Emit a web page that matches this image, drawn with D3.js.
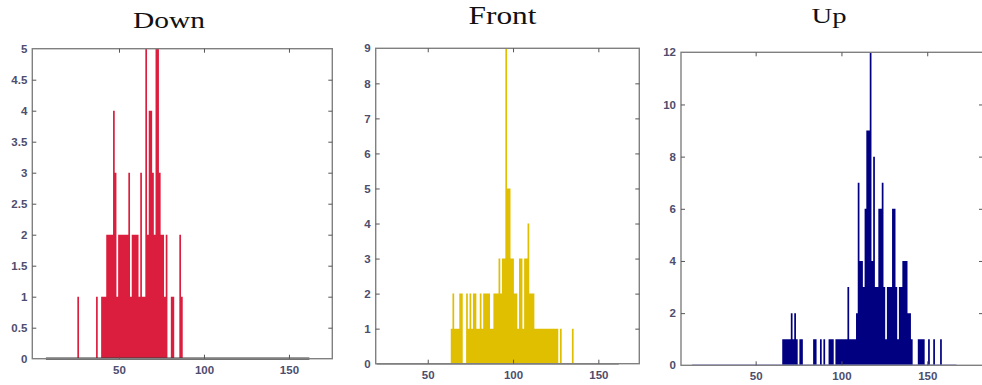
<!DOCTYPE html>
<html>
<head>
<meta charset="utf-8">
<script src="https://cdn.jsdelivr.net/npm/d3@7"></script>
<style>
  html, body { margin: 0; padding: 0; background: #fff; }
  svg { display: block; }
  .tick text { font-family: 'Liberation Sans', Arial, sans-serif; font-weight: bold; font-size: 11.5px; fill: #4d4d6e; }
  .tick line { stroke: #555; }
</style>
</head>
<body>
<svg id="chart" width="982" height="385"></svg>
<script>
// bin centres and counts
const downX = [26, 37, 40, 41, 42, 43, 44, 45, 46, 47, 48, 49, 50, 51, 52, 53, 54, 55, 56, 57, 58, 59, 60, 61, 62, 63, 64, 65, 66, 67, 68, 69, 70, 71, 72, 73, 74, 75, 76, 77, 78, 81, 82, 86, 87]
const downN = [1, 1, 1, 1, 1, 2, 2, 2, 2, 4, 3, 1, 2, 2, 2, 2, 2, 2, 3, 1, 2, 2, 2, 2, 1, 3, 1, 1, 5, 2, 4, 4, 3, 2, 5, 5, 3, 2, 2, 1, 2, 1, 1, 2, 1]

const frontX = [64, 65, 66, 67, 68, 69, 70, 73, 74, 75, 76, 77, 78, 79, 80, 81, 82, 83, 84, 85, 86, 87, 88, 89, 90, 91, 92, 93, 94, 95, 96, 97, 98, 99, 100, 101, 102, 103, 104, 105, 106, 107, 108, 109, 110, 111, 112, 113, 114, 115, 116, 117, 118, 119, 120, 121, 122, 123, 124, 125, 126, 128, 135]
const frontN = [1, 2, 1, 1, 1, 2, 2, 2, 1, 2, 1, 2, 2, 1, 1, 2, 1, 2, 2, 2, 2, 1, 1, 2, 2, 2, 3, 2, 3, 3, 9, 5, 5, 3, 3, 2, 2, 1, 3, 3, 1, 3, 3, 4, 2, 2, 2, 1, 1, 1, 1, 1, 1, 1, 1, 1, 1, 1, 1, 1, 1, 1, 1]

const upX = [66, 67, 68, 69, 70, 71, 72, 73, 74, 76, 77, 84, 85, 88, 90, 93, 94, 95, 97, 98, 99, 100, 101, 102, 103, 104, 105, 106, 107, 108, 109, 110, 111, 112, 113, 114, 115, 116, 117, 118, 119, 120, 121, 122, 123, 124, 125, 126, 127, 128, 129, 130, 131, 132, 133, 134, 135, 136, 137, 138, 139, 140, 141, 145, 146, 147, 148, 151, 154, 158]
const upN = [1, 1, 1, 1, 1, 2, 1, 2, 1, 1, 1, 1, 1, 1, 1, 1, 1, 1, 1, 1, 1, 1, 1, 1, 1, 3, 1, 1, 1, 1, 2, 7, 4, 4, 3, 6, 9, 9, 12, 4, 8, 3, 3, 6, 6, 7, 3, 1, 3, 3, 3, 6, 6, 3, 1, 3, 3, 4, 4, 4, 2, 2, 1, 1, 1, 1, 1, 1, 1, 1]

const titles = ['Down', 'Front', 'Up']
const xTicks = [50, 100, 150]
const downYTicks = [0, 0.5, 1, 1.5, 2, 2.5, 3, 3.5, 4, 4.5, 5]
const frontYTicks = [0, 1, 2, 3, 4, 5, 6, 7, 8, 9]
const upYTicks = [0, 2, 4, 6, 8, 10, 12]
const binRanges = [[7, 162], [20, 162], [13, 167]]

const panels = [
  {
    title: titles[0], xs: downX, ns: downN, yTicks: downYTicks, yMax: 5,
    xDomain: [-1, 175.5], left: 32.3, right: 332.3, top: 48.7, bottom: 358.7,
    color: '#dc1e3e', base: '#3a3a3a', baseW: 2.2, bins: binRanges[0],
    tx: 169, ty: 27.5, tSize: 23, tLen: 72,
  },
  {
    title: titles[1], xs: frontX, ns: frontN, yTicks: frontYTicks, yMax: 9,
    xDomain: [19.5, 174], left: 375.7, right: 639.3, top: 48.3, bottom: 363.7,
    color: '#e0be00', base: '#555', baseW: 1.6, bins: binRanges[1],
    tx: 502.5, ty: 23.5, tSize: 25, tLen: 68,
  },
  {
    title: titles[2], xs: upX, ns: upN, yTicks: upYTicks, yMax: 12,
    xDomain: [6.5, 182.5], left: 681, right: 983, top: 52.3, bottom: 365.3,
    color: '#000080', base: '#7070d0', baseW: 1.6, bins: binRanges[2],
    tx: 829, ty: 23, tSize: 22, tLen: 35,
  },
]

const svg = d3.select('#chart')

panels.forEach((p) => drawPanel(p))

function drawPanel(p) {
  const x = d3.scaleLinear().domain(p.xDomain).range([p.left, p.right])
  const y = d3.scaleLinear().domain([0, p.yMax]).range([p.bottom, p.top])
  const g = svg.append('g')

  const data = p.xs.map((v, i) => ({ v: v, n: p.ns[i] }))

  // all bins in one path so neighbouring bars don't leave seams
  const barPath = data
    .map((d) => `M${x(d.v - 0.5)},${y(0)}V${y(d.n)}H${x(d.v + 0.5)}V${y(0)}Z`)
    .join('')
  g.append('path')
    .attr('class', 'bars')
    .attr('d', barPath)
    .attr('fill', p.color)

  // baseline under the bins
  g.append('line')
    .attr('x1', x(p.bins[0]))
    .attr('x2', x(p.bins[1]))
    .attr('y1', y(0))
    .attr('y2', y(0))
    .attr('stroke', p.base)
    .attr('stroke-width', p.baseW)

  // box
  g.append('rect')
    .attr('x', p.left)
    .attr('y', p.top)
    .attr('width', p.right - p.left)
    .attr('height', p.bottom - p.top)
    .attr('fill', 'none')
    .attr('stroke', '#808080')
    .attr('stroke-width', 1.4)

  const xb = g.append('g')
    .attr('transform', `translate(0,${p.bottom})`)
    .call(d3.axisBottom(x).tickValues(xTicks).tickSize(-4).tickPadding(7))
  const xt = g.append('g')
    .attr('transform', `translate(0,${p.top})`)
    .call(d3.axisTop(x).tickValues(xTicks).tickSize(-4).tickFormat(''))
  const yl = g.append('g')
    .attr('transform', `translate(${p.left},0)`)
    .call(d3.axisLeft(y).tickValues(p.yTicks).tickSize(-4).tickPadding(5).tickFormat(d3.format('')))
  const yr = g.append('g')
    .attr('transform', `translate(${p.right},0)`)
    .call(d3.axisRight(y).tickValues(p.yTicks).tickSize(-4).tickFormat(''))
  ;[xb, xt, yl, yr].forEach((a) => a.select('.domain').remove())
  // no tick marks at the very ends
  yl.selectAll('.tick line').filter((d) => d === 0 || d === p.yMax).remove()
  yr.selectAll('.tick line').filter((d) => d === 0 || d === p.yMax).remove()

  svg.append('text')
    .attr('x', p.tx)
    .attr('y', p.ty)
    .attr('text-anchor', 'middle')
    .attr('textLength', p.tLen)
    .attr('lengthAdjust', 'spacingAndGlyphs')
    .style('font-family', "'Liberation Serif', 'DejaVu Serif', serif")
    .style('font-size', p.tSize + 'px')
    .attr('fill', '#111')
    .text(p.title)
}
</script>
</body>
</html>
